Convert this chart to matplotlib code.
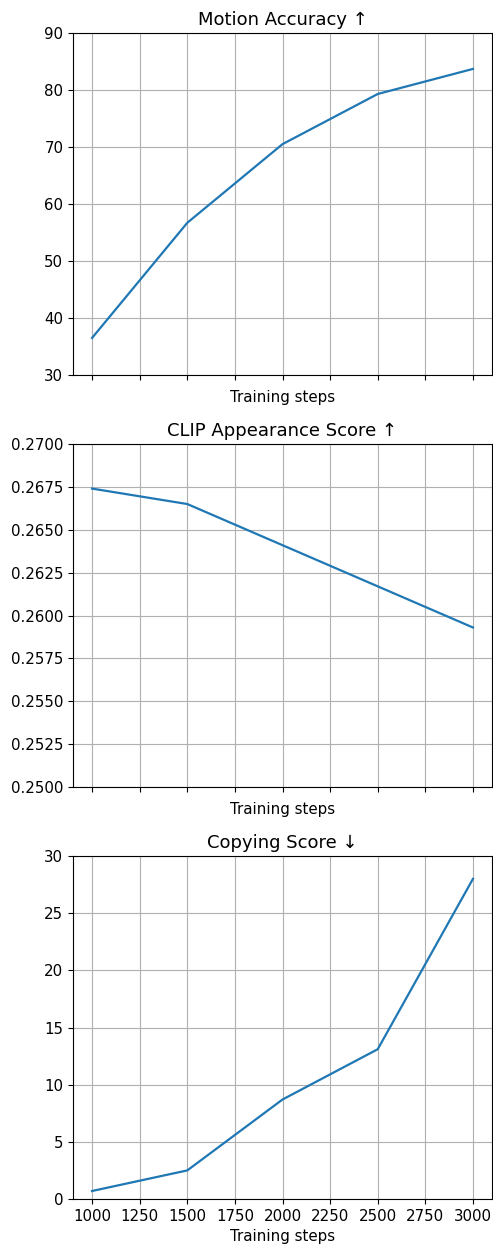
import numpy as np
import matplotlib.pyplot as plt

steps = [1000, 1500, 2000, 2500, 3000]
motion_acc = [36.5, 56.7, 70.5, 79.3, 83.7]
clip_score = [0.2674, 0.2665, 0.2641, 0.2617, 0.2593]
copying = [0.7, 2.5, 8.7, 13.1, 28.0]

plt.rcParams['font.size'] = 10.8
plt.rcParams['lines.linewidth'] = 1.6

W, H = 493, 1245
fig = plt.figure(figsize=(W / 100, H / 100), dpi=100)

def px_axes(left, top, right, bottom):
    return fig.add_axes([left / W, 1 - bottom / H, (right - left) / W, (bottom - top) / H])

ax1 = px_axes(73, 33, 492, 375)
ax2 = px_axes(73, 444, 492, 787)
ax3 = px_axes(73, 856, 492, 1199)

ax1.plot(steps, motion_acc)
ax1.set_title("Motion Accuracy ↑")
ax1.set_ylim(30, 90)

ax2.plot(steps, clip_score)
ax2.set_title("CLIP Appearance Score ↑")
ax2.set_ylim(0.25, 0.27)
ax2.set_yticks(np.arange(0.25, 0.2701, 0.0025))

ax3.plot(steps, copying)
ax3.set_title("Copying Score ↓")
ax3.set_ylim(0, 30)

for ax in (ax1, ax2, ax3):
    ax.set_xlim(900, 3100)
    ax.set_xticks(np.arange(1000, 3001, 250))
    ax.set_xlabel("Training steps")
    ax.grid(True)
for ax in (ax1, ax2):
    ax.set_xticklabels([])

fig.savefig("out.png", dpi=100)
